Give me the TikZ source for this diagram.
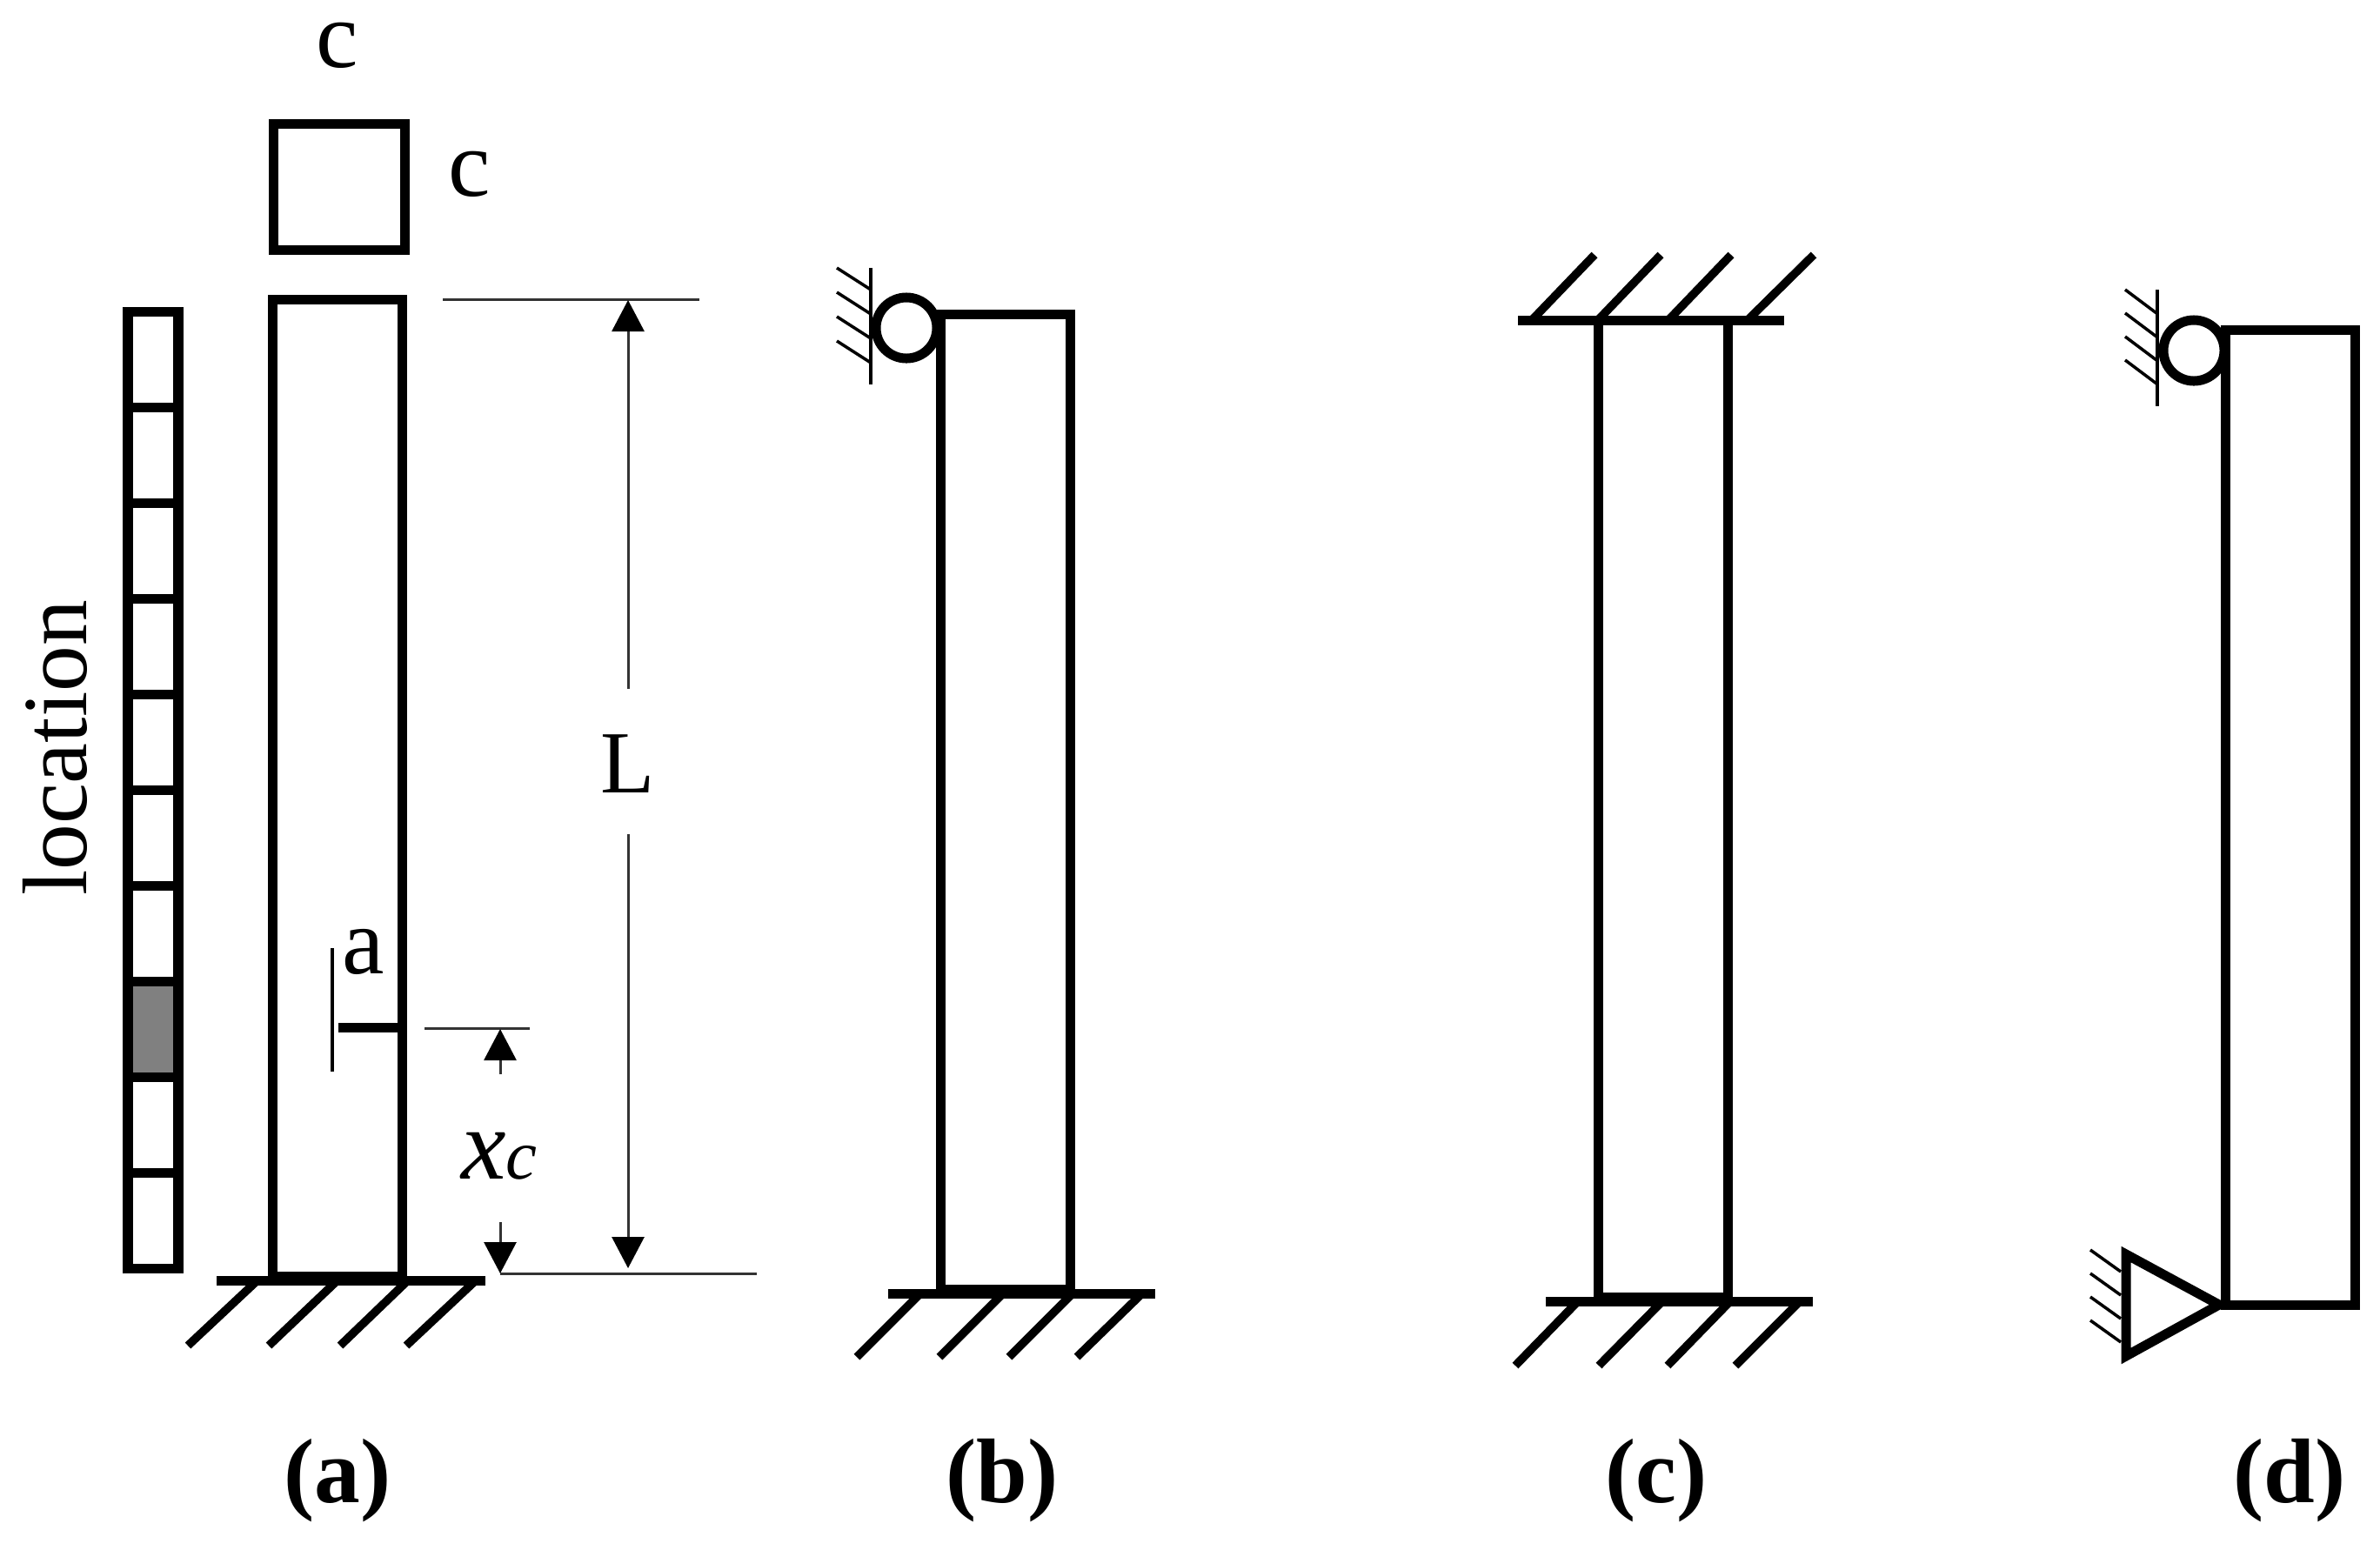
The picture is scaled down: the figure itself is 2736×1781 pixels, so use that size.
\documentclass[tikz,border=0pt]{standalone}
\usepackage{fontspec}
\setmainfont{Liberation Serif}
\usetikzlibrary{arrows.meta}

\begin{document}
\begin{tikzpicture}[x=0.01cm, y=-0.01cm]
    \tikzstyle{thickline} = [draw=black, line width=1.1mm, line join=miter]
    \tikzstyle{hatchline} = [draw=black, line width=0.95mm]
    \tikzstyle{thinline} = [draw=black, line width=0.35mm]
    \tikzstyle{dimline} = [draw=black!80, line width=0.3mm]
    \tikzstyle{dimarrow} = [dimline, -{Triangle[length=0.36cm, width=0.37cm, fill=black, color=black]}]
    \tikzstyle{pin} = [draw=black, fill=white, circle, line width=1.1mm, minimum size=0.7cm, inner sep=0pt]
    \tikzstyle{plain} = [inner sep=0pt, font=\fontsize{31}{31}\selectfont]
    \tikzstyle{tag} = [inner sep=0pt, anchor=base, font=\bfseries\fontsize{30}{30}\selectfont]

    % fixes the page size
    \useasboundingbox (0, 0) rectangle (2736, 1781);

    % the location strip on the left
    \fill[black!50] (147, 1128) rectangle (205, 1238);
    \foreach \y in {0, 1, ..., 9} {
        \draw[thickline] (147, {358 + \y * 110}) rectangle (205, {468 + \y * 110});
    }
    \node[plain, rotate=90, font=\fontsize{30}{30}\selectfont] (location) at (63, 860) {location};

    % cross section on top
    \draw[thickline] (314, 142) rectangle (465, 287);
    \node[plain, anchor=base] (sizetop) at (388, 77) {c};
    \node[plain, anchor=base] (sizeright) at (540, 225) {c};

    % column of (a)
    \foreach \x/\z in {296/216, 388/309, 469/391, 547/467} {
        \draw[hatchline] (\x, 1472) -- (\z, 1547);
    }
    \draw[thickline] (313, 344) rectangle (462, 1467);
    \draw[thickline] (249, 1472) -- (558, 1472);

    % crack
    \draw[thickline] (389, 1181) -- (462, 1181);
    \draw[thinline] (382, 1090) -- (382, 1232);
    \node[plain, anchor=base] (crack) at (418, 1119) {a};

    % dimension L
    \coordinate (Ltop) at (509, 344);
    \coordinate (Ltopend) at (804, 344);
    \coordinate (Lbottom) at (575, 1464);
    \coordinate (Lbottomend) at (870, 1464);
    \draw[dimline] (Ltop) -- (Ltopend);
    \draw[dimline] (Lbottom) -- (Lbottomend);
    \node[plain, anchor=base, font=\fontsize{29}{29}\selectfont] (length) at (722, 911) {L};
    \coordinate (Larrowup) at (722, 792);
    \coordinate (Larrowdown) at (722, 959);
    \draw[dimarrow] (Larrowup) -- (722, 345);
    \draw[dimarrow] (Larrowdown) -- (722, 1458);

    % dimension of the crack position
    \coordinate (xctop) at (488, 1182);
    \coordinate (xctopend) at (609, 1182);
    \draw[dimline] (xctop) -- (xctopend);
    \draw[dimarrow] (575, 1235) -- (575, 1183);
    \draw[dimarrow] (575, 1405) -- (575, 1464);
    \node[inner sep=0pt, anchor=base, font=\itshape] (xc) at (574, 1355) {\fontsize{33}{33}\selectfont x\fontsize{23}{23}\selectfont c};

    % column of (b)
    \foreach \x/\z in {1058/985, 1153/1080, 1233/1160, 1313/1238} {
        \draw[hatchline] (\x, 1487) -- (\z, 1560);
    }
    \draw[thickline] (1081, 361) rectangle (1230, 1482);
    \draw[thickline] (1021, 1487) -- (1328, 1487);
    \draw[thinline] (1001, 308) -- (1001, 442);
    \foreach \y in {0, 1, 2, 3} {
        \draw[thinline] (1001, {333 + \y * 28}) -- (962, {308 + \y * 28});
    }
    \node[pin] (pinb) at (1042, 377) {};

    % column of (c)
    \foreach \x/\z in {1761/1833, 1837/1909, 1918/1990, 2009/2085} {
        \draw[hatchline] (\x, 368) -- (\z, 293);
    }
    \foreach \x/\z in {1814/1742, 1911/1838, 1989/1917, 2069/1995} {
        \draw[hatchline] (\x, 1496) -- (\z, 1570);
    }
    \draw[thickline] (1837, 368) rectangle (1986, 1491);
    \draw[thickline] (1745, 368) -- (2051, 368);
    \draw[thickline] (1777, 1496) -- (2084, 1496);

    % column of (d)
    \draw[thickline] (2558, 379) rectangle (2707, 1500);
    \draw[thinline] (2480, 333) -- (2480, 467);
    \foreach \y in {0, 1, 2, 3} {
        \draw[thinline] (2479, {360 + \y * 27}) -- (2443, {333 + \y * 27});
    }
    \node[pin] (pind) at (2522, 403) {};
    \draw[thickline] (2444, 1442) -- (2551, 1500) -- (2444, 1559) -- cycle;
    \foreach \y in {0, 1, 2, 3} {
        \draw[thinline] (2438, {1462 + \y * 27}) -- (2403, {1437 + \y * 27});
    }

    % the tags below
    \node[tag] (taga) at (388, 1727) {(a)};
    \node[tag] (tagb) at (1152, 1727) {(b)};
    \node[tag] (tagc) at (1904, 1727) {(c)};
    \node[tag] (tagd) at (2632, 1727) {(d)};
\end{tikzpicture}
\end{document}
